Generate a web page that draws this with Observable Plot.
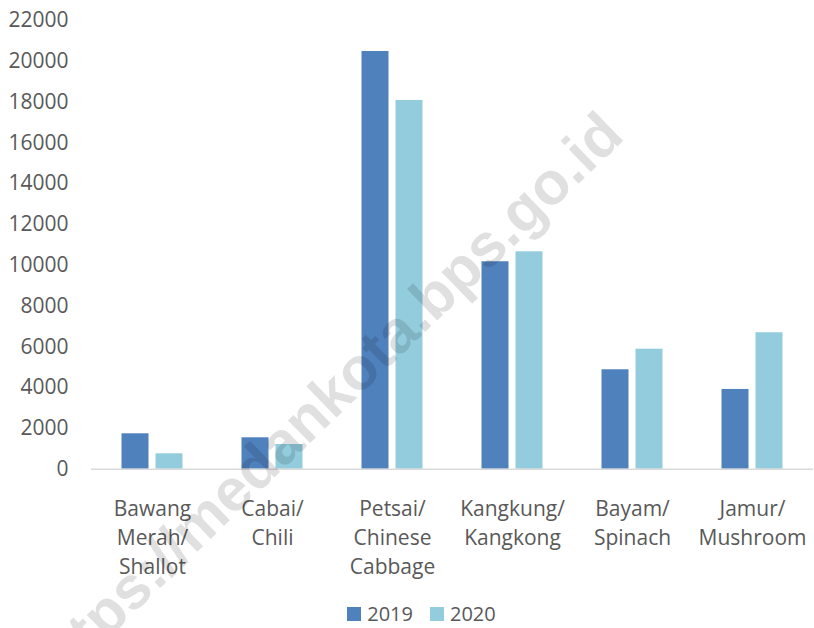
<!DOCTYPE html>
<html>
<head>
<meta charset="utf-8">
<script src="https://cdn.jsdelivr.net/npm/d3@7"></script>
<script src="https://cdn.jsdelivr.net/npm/@observablehq/plot@0.6"></script>
<style>
  html, body { margin: 0; padding: 0; background: #fff; }
  #wrap { position: relative; width: 814px; height: 628px; font-family: "Open Sans", sans-serif; }
  #chart svg { display: block; }
  #legend { position: absolute; left: 0; top: 600px; width: 814px; height: 27px; display: flex; justify-content: center; align-items: center; gap: 17px; padding-left: 29px; box-sizing: border-box; color: #595959; font-size: 20px; }
  #legend .item { display: flex; align-items: center; gap: 6px; }
  #legend .sw { width: 14px; height: 14px; display: inline-block; }
  #wm { position: absolute; left: 0; top: 0; pointer-events: none; }
</style>
</head>
<body>
<div id="wrap">
  <div id="chart"></div>
  <div id="legend"></div>
  <svg id="wm" width="814" height="628"></svg>
</div>
<script>
const categories = ["Bawang\nMerah/\nShallot", "Cabai/\nChili", "Petsai/\nChinese\nCabbage", "Kangkung/\nKangkong", "Bayam/\nSpinach", "Jamur/\nMushroom"];
const years = ["2019", "2020"];
const values2019 = [1736, 1540, 20480, 10170, 4875, 3910];
const values2020 = [755, 1210, 18080, 10660, 5885, 6690];
const yTicks = [0, 2000, 4000, 6000, 8000, 10000, 12000, 14000, 16000, 18000, 20000, 22000];
const colors = ["#4f81bd", "#93cddd"];
const watermark = "https://medankota.bps.go.id";

const rows = categories.flatMap((c, i) => [
  {cat: c, year: years[0], value: values2019[i]},
  {cat: c, year: years[1], value: values2020[i]}
]);

const chart = Plot.plot({
  width: 814,
  height: 600,
  marginLeft: 91,
  marginRight: 1,
  marginTop: 20,
  marginBottom: 131.3,
  style: {color: "#595959", fontFamily: "Open Sans, sans-serif", background: "transparent"},
  x: {domain: categories, padding: 0, label: null, axis: null},
  y: {domain: [0, 22000], label: null, axis: null},
  color: {domain: years, range: colors},
  marks: [
    Plot.barY(rows.filter(d => d.year === years[0]), {x: "cat", y: "value", fill: "year", insetLeft: 29.5, insetRight: 63.5}),
    Plot.barY(rows.filter(d => d.year === years[1]), {x: "cat", y: "value", fill: "year", insetLeft: 63.5, insetRight: 29.5}),
    Plot.ruleY([0], {stroke: "#d9d9d9", strokeWidth: 1.5}),
    Plot.axisY({ticks: yTicks, tickSize: 0, tickPadding: 23, tickFormat: d3.format("d"), fontSize: 21, label: null}),
    Plot.axisX({tickSize: 0, tickPadding: 26, fontSize: 21, lineHeight: 1.38, label: null})
  ]
});
document.getElementById("chart").appendChild(chart);

const legend = d3.select("#legend");
years.forEach((y, i) => {
  const item = legend.append("div").attr("class", "item");
  item.append("span").attr("class", "sw").style("background", colors[i]);
  item.append("span").text(y);
});

d3.select("#wm").append("text")
  .attr("transform", "translate(626,138) rotate(-44)")
  .attr("text-anchor", "end")
  .attr("font-family", "Liberation Sans, Arial, sans-serif")
  .attr("font-weight", "bold")
  .attr("font-size", 60)
  .attr("fill", "#000")
  .attr("fill-opacity", 0.12)
  .text(watermark);
</script>
</body>
</html>
